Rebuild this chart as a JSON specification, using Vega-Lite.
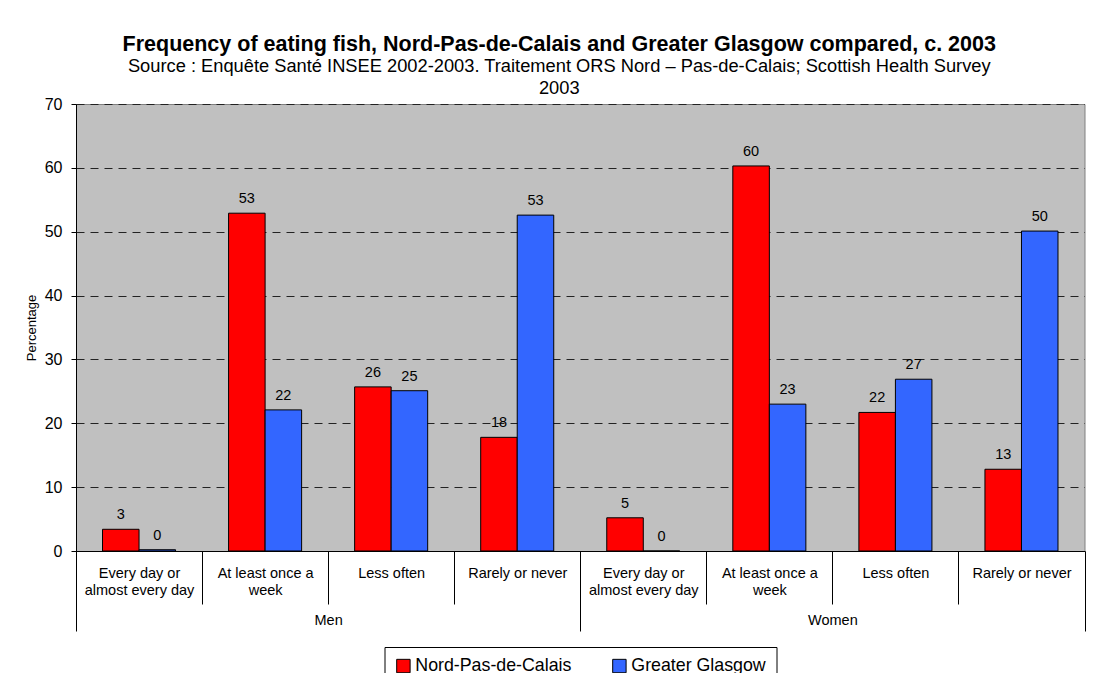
{
  "$schema": "https://vega.github.io/schema/vega-lite/v6.json",
  "width": 1008.5,
  "height": 447,
  "autosize": {"type": "pad"},
  "padding": {"left": 25, "top": 34, "right": 10, "bottom": 0},
  "background": "white",
  "title": {
    "text": "Frequency of eating fish, Nord-Pas-de-Calais and Greater Glasgow compared, c. 2003",
    "subtitle": ["Source : Enquête Santé INSEE 2002-2003. Traitement ORS Nord – Pas-de-Calais; Scottish Health Survey", "2003"],
    "font": "Liberation Sans",
    "fontSize": 21.5,
    "fontWeight": "bold",
    "color": "#000",
    "subtitleFont": "Liberation Sans",
    "subtitleFontSize": 18.3,
    "subtitleColor": "#000",
    "subtitleLineHeight": 22,
    "subtitlePadding": 2,
    "anchor": "middle",
    "frame": "group",
    "dx": -21,
    "offset": -1
  },
  "data": {
    "values": [
      {"sex": "Men", "category": "Men|Every day or~almost every day", "region": "Nord-Pas-de-Calais", "value": 3.4},
      {"sex": "Men", "category": "Men|Every day or~almost every day", "region": "Greater Glasgow", "value": 0.2},
      {"sex": "Men", "category": "Men|At least once a~week", "region": "Nord-Pas-de-Calais", "value": 52.9},
      {"sex": "Men", "category": "Men|At least once a~week", "region": "Greater Glasgow", "value": 22.1},
      {"sex": "Men", "category": "Men|Less often", "region": "Nord-Pas-de-Calais", "value": 25.7},
      {"sex": "Men", "category": "Men|Less often", "region": "Greater Glasgow", "value": 25.1},
      {"sex": "Men", "category": "Men|Rarely or never", "region": "Nord-Pas-de-Calais", "value": 17.8},
      {"sex": "Men", "category": "Men|Rarely or never", "region": "Greater Glasgow", "value": 52.6},
      {"sex": "Women", "category": "Women|Every day or~almost every day", "region": "Nord-Pas-de-Calais", "value": 5.2},
      {"sex": "Women", "category": "Women|Every day or~almost every day", "region": "Greater Glasgow", "value": 0},
      {"sex": "Women", "category": "Women|At least once a~week", "region": "Nord-Pas-de-Calais", "value": 60.3},
      {"sex": "Women", "category": "Women|At least once a~week", "region": "Greater Glasgow", "value": 23.0},
      {"sex": "Women", "category": "Women|Less often", "region": "Nord-Pas-de-Calais", "value": 21.7},
      {"sex": "Women", "category": "Women|Less often", "region": "Greater Glasgow", "value": 26.9},
      {"sex": "Women", "category": "Women|Rarely or never", "region": "Nord-Pas-de-Calais", "value": 12.8},
      {"sex": "Women", "category": "Women|Rarely or never", "region": "Greater Glasgow", "value": 50.1}
    ]
  },
  "layer": [
    {
      "encoding": {
        "x": {
          "field": "category",
          "type": "nominal",
          "sort": null,
          "scale": {"paddingInner": 0, "paddingOuter": 0},
          "axis": {
            "orient": "bottom",
            "title": null,
            "labelAngle": 0,
            "labelExpr": "isString(datum.label) && indexof(datum.label, '|') >= 0 ? split(split(datum.label, '|')[1], '~') : ''",
            "labelFont": "Liberation Sans",
            "labelFontSize": 14.5,
            "labelColor": "#000",
            "labelLineHeight": 17.5,
            "labelBaseline": "top",
            "labelPadding": -38,
            "tickBand": "extent",
            "tickSize": 53,
            "tickColor": "#000",
            "domainColor": "#000",
            "grid": false
          }
        },
        "xOffset": {
          "field": "region",
          "type": "nominal",
          "sort": ["Nord-Pas-de-Calais", "Greater Glasgow"],
          "scale": {"paddingInner": 0, "paddingOuter": 0.726}
        },
        "y": {
          "field": "value",
          "type": "quantitative",
          "scale": {"domain": [0, 70], "nice": false},
          "axis": {
            "title": "Percentage",
            "titleFont": "Liberation Sans",
            "titleFontSize": 13,
            "titleFontWeight": "normal",
            "titleColor": "#000",
            "titlePadding": 6,
            "labelFont": "Liberation Sans",
            "labelFontSize": 16,
            "labelColor": "#000",
            "labelPadding": 9,
            "tickSize": 5,
            "tickColor": "#000",
            "domainColor": "#000",
            "values": [0, 10, 20, 30, 40, 50, 60, 70],
            "grid": true,
            "gridColor": "#222",
            "gridDash": [8, 6],
            "gridWidth": 1
          }
        }
      },
      "layer": [
        {
          "mark": {"type": "bar", "stroke": "#000", "strokeWidth": 1},
          "encoding": {
            "color": {
              "field": "region",
              "type": "nominal",
              "scale": {"domain": ["Nord-Pas-de-Calais", "Greater Glasgow"], "range": ["#FF0000", "#3366FF"]},
              "legend": {
                "title": null,
                "orient": "none",
                "legendX": 308.5,
                "legendY": 543,
                "direction": "horizontal",
                "strokeColor": "#000",
                "fillColor": "#fff",
                "padding": 10,
                "symbolType": "square",
                "symbolSize": 180,
                "symbolStrokeColor": "#000",
                "symbolStrokeWidth": 1,
                "labelFont": "Liberation Sans",
                "labelFontSize": 17.8,
                "labelColor": "#000",
                "labelOffset": 3,
                "columnPadding": 39
              }
            }
          }
        },
        {
          "mark": {"type": "text", "baseline": "bottom", "dy": -7, "font": "Liberation Sans", "fontSize": 14.5, "color": "#000"},
          "encoding": {
            "text": {"field": "value", "type": "quantitative", "format": ".0f"}
          }
        }
      ]
    },
    {
      "mark": {"type": "point", "opacity": 0},
      "encoding": {
        "x": {
          "field": "sex",
          "type": "nominal",
          "sort": ["Men", "Women"],
          "scale": {"paddingInner": 0, "paddingOuter": 0},
          "axis": {
            "orient": "bottom",
            "title": null,
            "labelAngle": 0,
            "labelFont": "Liberation Sans",
            "labelFontSize": 14.5,
            "labelColor": "#000",
            "labelBaseline": "top",
            "labelPadding": -17.5,
            "tickBand": "extent",
            "tickSize": 80,
            "tickColor": "#000",
            "domain": false,
            "grid": false
          }
        }
      }
    }
  ],
  "resolve": {"scale": {"x": "independent"}},
  "config": {
    "view": {"fill": "#C0C0C0", "stroke": "#808080"}
  }
}
